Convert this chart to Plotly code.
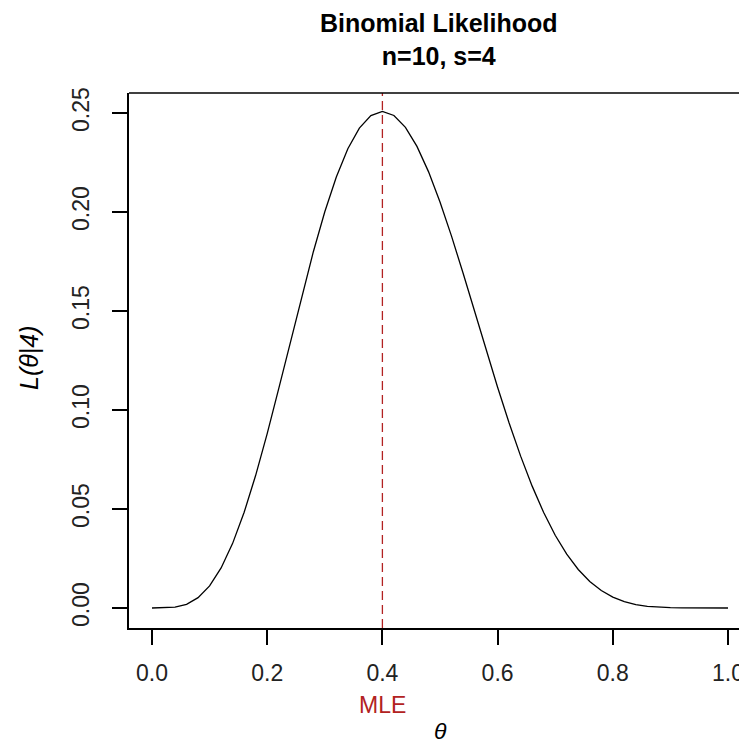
import plotly.graph_objects as go

# theta grid and likelihood values
theta = [0.00, 0.02, 0.04, 0.06, 0.08, 0.10, 0.12, 0.14, 0.16, 0.18,
         0.20, 0.22, 0.24, 0.26, 0.28, 0.30, 0.32, 0.34, 0.36, 0.38,
         0.40, 0.42, 0.44, 0.46, 0.48, 0.50, 0.52, 0.54, 0.56, 0.58,
         0.60, 0.62, 0.64, 0.66, 0.68, 0.70, 0.72, 0.74, 0.76, 0.78,
         0.80, 0.82, 0.84, 0.86, 0.88, 0.90, 0.92, 0.94, 0.96, 0.98, 1.00]
likelihood = [0.0, 0.00003, 0.00042, 0.00188, 0.00522, 0.01116, 0.02022, 0.03264, 0.04835, 0.06702,
              0.08808, 0.11079, 0.13425, 0.15759, 0.17982, 0.20012, 0.21771, 0.23195, 0.24238, 0.24871,
              0.25082, 0.24877, 0.24275, 0.23313, 0.22040, 0.20508, 0.18780, 0.16918, 0.14986, 0.13045,
              0.11148, 0.09343, 0.07669, 0.06155, 0.04821, 0.03676, 0.02720, 0.01945, 0.01339, 0.00881,
              0.00551, 0.00323, 0.00175, 0.00086, 0.00038, 0.00014, 0.00004, 0.00001, 0.0, 0.0, 0.0]
mle = 0.4

x_ticks = [0.0, 0.2, 0.4, 0.6, 0.8, 1.0]
x_tick_text = ["0.0", "0.2", "0.4", "0.6", "0.8", "1.0"]
y_ticks = [0.00, 0.05, 0.10, 0.15, 0.20, 0.25]
y_tick_text = ["0.00", "0.05", "0.10", "0.15", "0.20", "0.25"]

title_lines = ["Binomial Likelihood", "n=10, s=4"]

FONT = "Liberation Sans, Arial, sans-serif"
RED = "#B22222"

# page body adds an 8px offset, so the figure is slightly smaller
W, H = 739, 735
ML, MT, MB, MR = 121, 85, 115, 0
PW, PH = W - ML - MR, H - MT - MB


def px_x(px):
    return (px - 8 - ML) / PW


def px_y(py):
    return (H - MB - (py - 8)) / PH


fig = go.Figure()
fig.add_trace(go.Scatter(x=theta, y=likelihood, mode="lines",
                         line=dict(color="black", width=1.3), hoverinfo="skip"))

fig.add_shape(type="line", xref="x", yref="paper", x0=mle, x1=mle, y0=0, y1=1,
              line=dict(color=RED, width=1.3, dash="9px,5px"))
# top border of the box
fig.add_shape(type="line", xref="paper", yref="paper", x0=0, x1=1, y0=1, y1=1,
              line=dict(color="black", width=1.5))

annotations = [
    dict(text="<br>".join("<b>" + t + "</b>" for t in title_lines),
         x=px_x(439), xref="paper", y=px_y(8), yref="paper",
         showarrow=False, font=dict(size=25, family=FONT, color="black"),
         xanchor="center", yanchor="top", borderpad=0),
    dict(text="MLE", x=mle, xref="x", y=px_y(705), yref="paper", showarrow=False,
         font=dict(size=23, color=RED, family=FONT), xanchor="center", yanchor="middle"),
    dict(text="<i>θ</i>", x=px_x(440), xref="paper", y=px_y(731), yref="paper", showarrow=False,
         font=dict(size=23, family=FONT), xanchor="center", yanchor="middle"),
    dict(text="<i>L(θ|4)</i>", x=px_x(29), xref="paper", y=px_y(358), yref="paper", textangle=-90,
         showarrow=False, font=dict(size=25, family=FONT), xanchor="center", yanchor="middle"),
]

fig.update_layout(
    width=W, height=H,
    margin=dict(l=ML, r=MR, t=MT, b=MB),
    paper_bgcolor="white", plot_bgcolor="white",
    showlegend=False,
    font=dict(family=FONT, color="black"),
    xaxis=dict(range=[-23 / 576, 595 / 576], tickvals=x_ticks, ticktext=x_tick_text,
               showgrid=False, zeroline=False, showline=True, linecolor="black", linewidth=1.5,
               ticks="outside", ticklen=15, tickwidth=1.5, tickcolor="black",
               tickfont=dict(size=23, family=FONT, color="#222"), ticklabelstandoff=9),
    yaxis=dict(range=[-20 / 1980, 515 / 1980], tickvals=y_ticks, ticktext=y_tick_text,
               showgrid=False, zeroline=False, showline=True, linecolor="black", linewidth=1.5,
               ticks="outside", ticklen=15, tickwidth=1.5, tickcolor="black", tickangle=-90,
               tickfont=dict(size=23, family=FONT, color="#222"), ticklabelstandoff=14),
    annotations=annotations,
)

fig.write_html("out.html")
